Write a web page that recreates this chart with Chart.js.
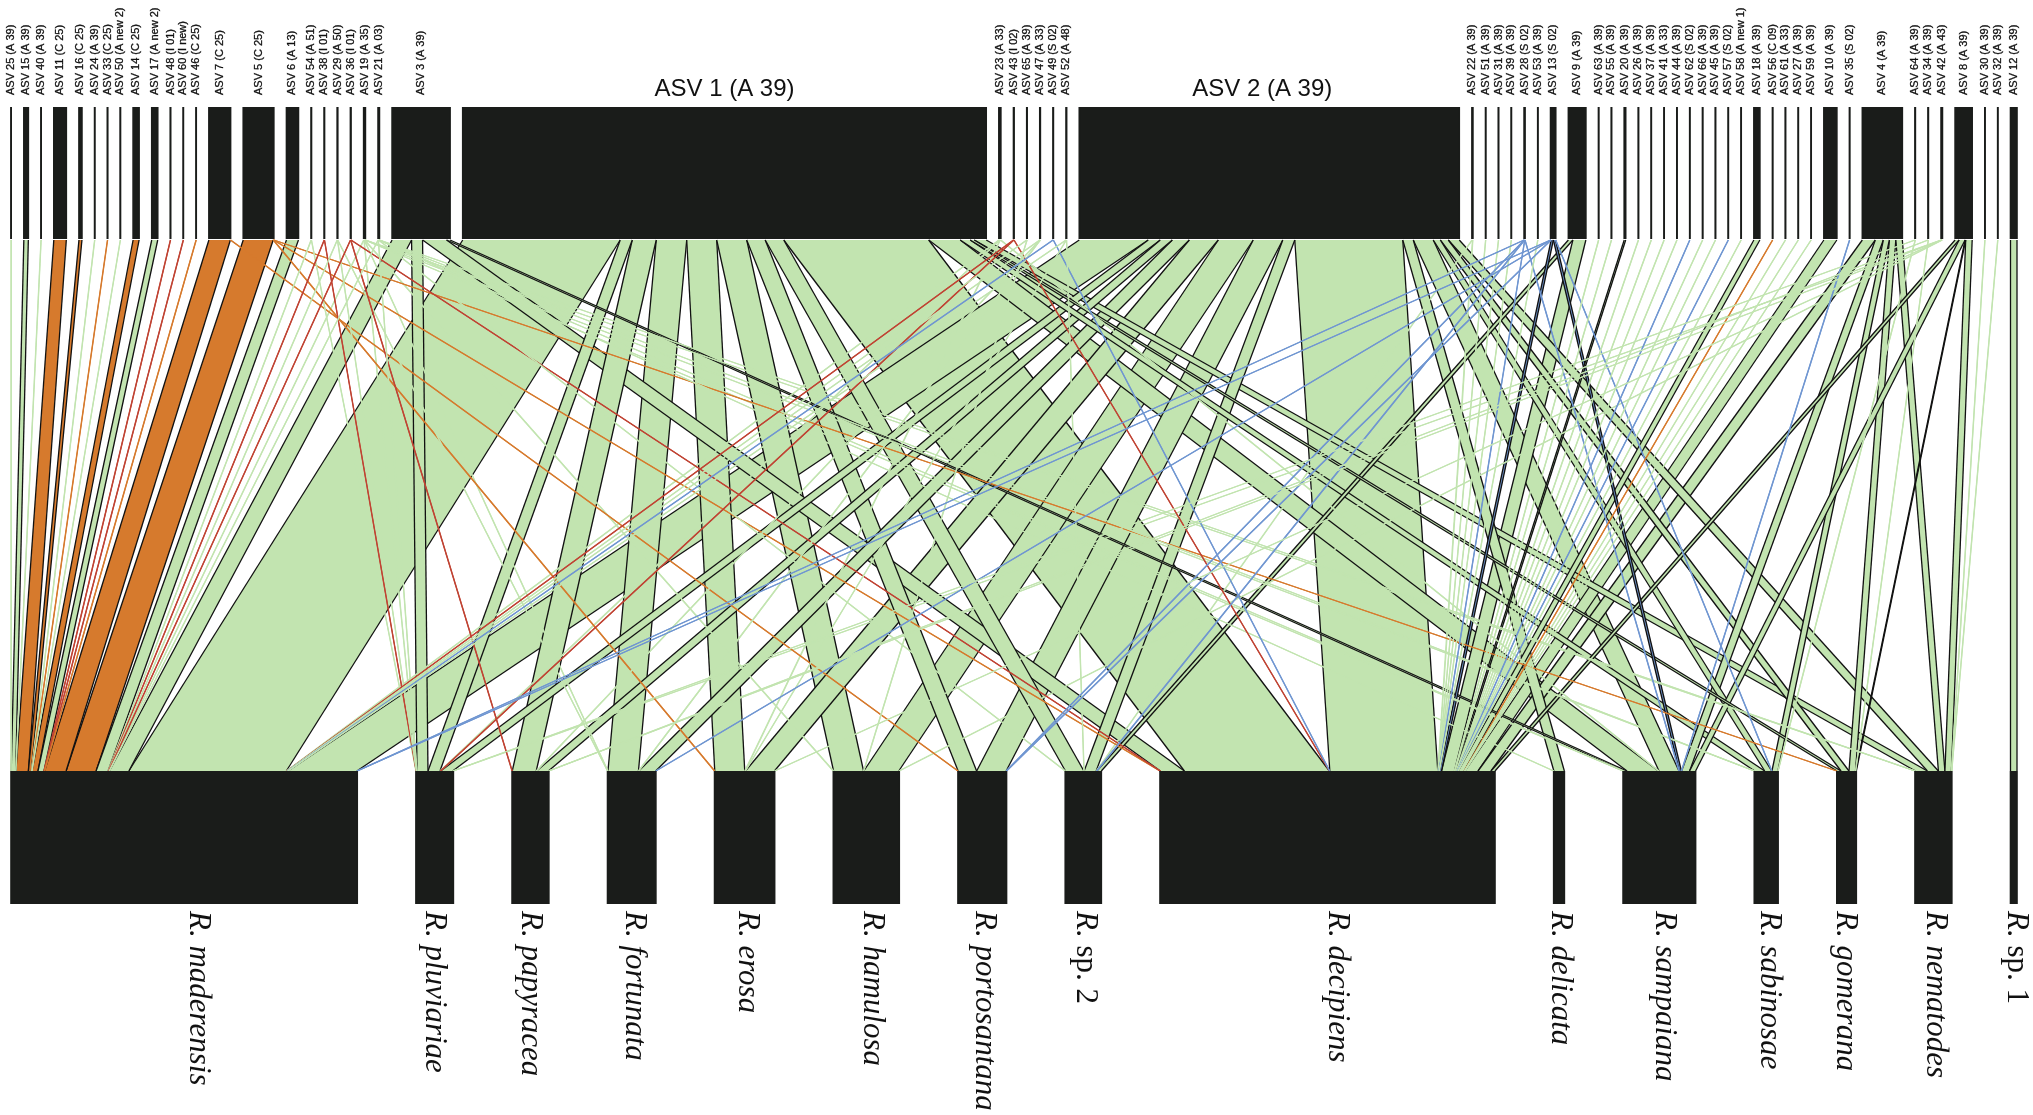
<!DOCTYPE html>
<html>
<head>
<meta charset="utf-8">
<title>ASV / species network</title>
<script src="https://cdn.jsdelivr.net/npm/chart.js@4"></script>
<style>
    html, body { margin: 0; padding: 0; background: #fff; }
    canvas { display: block; }
</style>
</head>
<body>
<canvas id="chart" width="2033" height="1115"></canvas>
<script>
// ASV labels, in the order of the top row
const asvLabels = [
    'ASV 25 (A 39)', 'ASV 15 (A 39)', 'ASV 40 (A 39)', 'ASV 11 (C 25)', 'ASV 16 (C 25)', 'ASV 24 (A 39)',
    'ASV 33 (C 25)', 'ASV 50 (A new 2)', 'ASV 14 (C 25)', 'ASV 17 (A new 2)', 'ASV 48 (I 01)', 'ASV 60 (I new)',
    'ASV 46 (C 25)', 'ASV 7 (C 25)', 'ASV 5 (C 25)', 'ASV 6 (A 13)', 'ASV 54 (A 51)', 'ASV 38 (I 01)',
    'ASV 29 (A 50)', 'ASV 36 (I 01)', 'ASV 19 (A 35)', 'ASV 21 (A 03)', 'ASV 3 (A 39)', 'ASV 1 (A 39)',
    'ASV 23 (A 33)', 'ASV 43 (I 02)', 'ASV 65 (A 39)', 'ASV 47 (A 33)', 'ASV 49 (S 02)', 'ASV 52 (A 48)',
    'ASV 2 (A 39)', 'ASV 22 (A 39)', 'ASV 51 (A 39)', 'ASV 31 (A 39)', 'ASV 39 (A 39)', 'ASV 28 (S 02)',
    'ASV 53 (A 39)', 'ASV 13 (S 02)', 'ASV 9 (A 39)', 'ASV 63 (A 39)', 'ASV 55 (A 39)', 'ASV 20 (A 39)',
    'ASV 26 (A 39)', 'ASV 37 (A 39)', 'ASV 41 (A 33)', 'ASV 44 (A 39)', 'ASV 62 (S 02)', 'ASV 66 (A 39)',
    'ASV 45 (A 39)', 'ASV 57 (S 02)', 'ASV 58 (A new 1)', 'ASV 18 (A 39)', 'ASV 56 (C 09)', 'ASV 61 (A 33)',
    'ASV 27 (A 39)', 'ASV 59 (A 39)', 'ASV 10 (A 39)', 'ASV 35 (S 02)', 'ASV 4 (A 39)', 'ASV 64 (A 39)',
    'ASV 34 (A 39)', 'ASV 42 (A 43)', 'ASV 8 (A 39)', 'ASV 30 (A 39)', 'ASV 32 (A 39)', 'ASV 12 (A 39)'
];

// Species labels, in the order of the bottom row
const speciesLabels = [
    'R. maderensis', 'R. pluviariae', 'R. papyracea', 'R. fortunata', 'R. erosa', 'R. hamulosa',
    'R. portosantana', 'R. sp. 2', 'R. decipiens', 'R. delicata', 'R. sampaiana', 'R. sabinosae',
    'R. gomerana', 'R. nematodes', 'R. sp. 1'
];

const maderensis = [[25, .2], [15, 4.5], [40, .2], [11, 12.5], [16, 3], [24, .2], [33, .2], [50, .2], [14, 6], [17, 6],
    [48, .2], [60, .2], [46, .2], [7, 21.5], [5, 30], [6, 12], [54, .2], [38, .2], [29, .2], [36, .2], [19, .25], [21, .2],
    [3, 19.5], [1, 157.5], [23, .5], [43, .2], [65, .2], [47, .2], [49, .2], [52, .2], [2, 69], [28, .2], [13, .2]];
const pluviariae = [[54, .2], [38, .2], [29, .2], [19, .25], [21, .2], [3, 11], [1, 12], [23, .5], [43, .2], [2, 12], [64, .2], [42, .5]];
const papyracea = [[36, .2], [1, 24], [47, .2], [2, 12], [34, .2], [42, .2]];
const fortunata = [[29, .2], [19, .25], [1, 30.5], [47, .2], [2, 17], [13, .2]];
const erosa = [[5, .2], [1, 30], [23, .5], [52, .2], [2, 29], [42, .2]];
const hamulosa = [[19, .25], [1, 30], [65, .2], [2, 35], [42, .5]];
const portosantana = [[7, .2], [1, 18.5], [2, 29.5], [28, .2], [13, .2]];
const sp2 = [[21, .2], [1, 18.5], [52, .2], [2, 12], [22, .5], [28, .2], [9, 4.5]];
const decipiens = [[5, .2], [36, .2], [3, 24], [1, 145], [43, .2], [49, .2], [2, 108], [22, .5], [51, .2], [31, .2], [39, .2],
    [28, .2], [53, .2], [13, 2.2], [9, 13], [63, .2], [55, .2], [20, 1.5], [26, .2], [37, .2], [41, .2], [44, .2], [62, .2],
    [66, .2], [45, .2], [57, .2], [58, .2], [18, 6], [56, .2], [61, .2], [27, .2], [59, .2], [10, 13], [4, 13], [8, 4]];
const delicata = [[21, .2], [2, 10.5]];
const sampaiana = [[3, 3.5], [19, .25], [21, .2], [1, 31.5], [23, .5], [2, 20], [28, .2], [13, 2.2], [35, .2], [4, 8], [8, 6]];
const sabinosae = [[19, .25], [21, .2], [1, 10], [2, 7], [13, .2], [4, 6], [64, .2]];
const gomerana = [[5, .2], [1, 4], [2, 8], [4, 6.5], [34, .2], [8, .6]];
const nematodes = [[19, .25], [21, .2], [1, 12], [2, 11], [4, 6.5], [8, 6.5], [30, .2], [32, .2]];
const sp1 = [[12, 6.5]];

const speciesLinks = [maderensis, pluviariae, papyracea, fortunata, erosa, hamulosa, portosantana, sp2,
    decipiens, delicata, sampaiana, sabinosae, gomerana, nematodes, sp1];

// Layout of the picture on the value axes
const X_START = 11;
const X_END = 2017;
const TOP_BAR = [107, 239];
const LINK_Y = [240, 771];
const BOTTOM_BAR = [771, 904];

const CLADE_COLORS = { A: '#c2e4b0', C: '#d67a2d', I: '#c04333', S: '#7096d1' };
const BAR_COLOR = '#1a1c1a';
// Links thinner than this have no black outline
const OUTLINE_MIN = .55;

// Labels are not all centred under their bars
const speciesLabelNudge = [14.5, 0, 0, 2, 2.5, 6, 1.5, 2, 10, 1, 4.6, 3, -1.7, 2, 2.6];
const WIDE_LABEL_NUDGE = { 'ASV 1 (A 39)': 0, 'ASV 2 (A 39)': -7 };

const asvNumber = label => parseInt(label.split(' ')[1], 10);
const asvClade = label => label.split('(')[1].charAt(0);

const links = [];
speciesLinks.forEach((list, species) => {
    list.forEach(([num, value]) => {
        links.push({ asv: asvLabels.findIndex(l => asvNumber(l) === num), species, value });
    });
});

/**
 * Lay a row of boxes out from the sum of their links, with an even gap
 * filling what is left of the axis (same idea as a bipartite web plot).
 */
function stackRow(count, key, otherKey) {
    const sums = new Array(count).fill(0);
    links.forEach(l => { sums[l[key]] += l.value; });
    const total = sums.reduce((a, b) => a + b, 0);
    const gap = (X_END - X_START - total) / (count - 1);
    const boxes = [];
    let x = X_START;
    for (let i = 0; i < count; i++) {
        boxes.push({ start: x, end: x + sums[i] });
        let cursor = x;
        links.filter(l => l[key] === i)
            .sort((a, b) => a[otherKey] - b[otherKey])
            .forEach(l => {
                l[key + 'Start'] = cursor;
                cursor += l.value;
                l[key + 'End'] = cursor;
            });
        x += sums[i] + gap;
    }
    return boxes;
}

const asvBoxes = stackRow(asvLabels.length, 'asv', 'species');
const speciesBoxes = stackRow(speciesLabels.length, 'species', 'asv');

// Each shape is a pair of edge lines with the area between them filled
function pushShape(list, edgeA, edgeB, fillColor, edgeColor, edgeWidth) {
    const base = { pointRadius: 0, borderColor: edgeColor, borderWidth: edgeWidth, tension: 0 };
    // the list is reversed later, so this one ends up right after its target
    list.push({ ...base, data: edgeA, fill: '-1', backgroundColor: fillColor });
    list.push({ ...base, data: edgeB, fill: false });
}

function buildDatasets() {
    const list = [];
    // wide links go down first so the narrow ones stay visible on top of them
    const paintOrder = links.slice().sort((a, b) => b.value - a.value || a.asv - b.asv);
    paintOrder.forEach(l => {
        const color = CLADE_COLORS[asvClade(asvLabels[l.asv])];
        const outlined = l.value >= OUTLINE_MIN;
        pushShape(list,
            [{ x: l.asvStart, y: LINK_Y[0] }, { x: l.speciesStart, y: LINK_Y[1] }],
            [{ x: l.asvEnd, y: LINK_Y[0] }, { x: l.speciesEnd, y: LINK_Y[1] }],
            color,
            outlined ? '#111' : color,
            outlined ? 1.3 : 1.25);
    });
    asvBoxes.forEach(b => {
        pushShape(list, [{ x: b.start, y: TOP_BAR[0] }, { x: b.start, y: TOP_BAR[1] }],
            [{ x: b.end, y: TOP_BAR[0] }, { x: b.end, y: TOP_BAR[1] }], BAR_COLOR, BAR_COLOR, 1.6);
    });
    speciesBoxes.forEach(b => {
        pushShape(list, [{ x: b.start, y: BOTTOM_BAR[0] }, { x: b.start, y: BOTTOM_BAR[1] }],
            [{ x: b.end, y: BOTTOM_BAR[0] }, { x: b.end, y: BOTTOM_BAR[1] }], BAR_COLOR, BAR_COLOR, 1.6);
    });
    // Chart.js paints the last dataset first
    return list.reverse();
}

// Row labels: ASV names on top, species names below
const rowLabels = {
    id: 'rowLabels',
    afterDraw(chart) {
        const { ctx, scales: { x, y } } = chart;
        ctx.save();
        ctx.fillStyle = '#111';
        ctx.strokeStyle = '#111';
        ctx.lineWidth = .3;
        asvLabels.forEach((label, i) => {
            const mid = (asvBoxes[i].start + asvBoxes[i].end) / 2;
            if (label in WIDE_LABEL_NUDGE) {
                ctx.font = '24px "Liberation Sans"';
                ctx.textAlign = 'center';
                ctx.textBaseline = 'alphabetic';
                ctx.fillText(label, x.getPixelForValue(mid + WIDE_LABEL_NUDGE[label]), y.getPixelForValue(96));
                return;
            }
            ctx.save();
            ctx.translate(x.getPixelForValue(mid), y.getPixelForValue(95));
            ctx.rotate(-Math.PI / 2);
            ctx.font = '11px "Liberation Sans"';
            ctx.textAlign = 'left';
            ctx.textBaseline = 'middle';
            ctx.fillText(label, 0, 0);
            ctx.strokeText(label, 0, 0);
            ctx.restore();
        });
        speciesLabels.forEach((label, i) => {
            const cx = x.getPixelForValue((speciesBoxes[i].start + speciesBoxes[i].end) / 2 + speciesLabelNudge[i]);
            ctx.save();
            ctx.translate(cx, y.getPixelForValue(911));
            ctx.rotate(Math.PI / 2);
            ctx.textAlign = 'left';
            ctx.textBaseline = 'middle';
            if (label.includes('sp.')) {
                // genus initial in italics, "sp. n" upright
                ctx.font = 'italic 31px "Liberation Serif"';
                ctx.fillText('R. ', 0, 0);
                const w = ctx.measureText('R. ').width;
                ctx.font = '31px "Liberation Serif"';
                ctx.fillText(label.slice(3), w, 0);
            } else {
                ctx.font = 'italic 31px "Liberation Serif"';
                ctx.fillText(label, 0, 0);
            }
            ctx.restore();
        });
        ctx.restore();
    }
};

new Chart(document.getElementById('chart').getContext('2d'), {
    type: 'line',
    data: { datasets: buildDatasets() },
    plugins: [rowLabels],
    options: {
        indexAxis: 'y',
        responsive: false,
        animation: false,
        events: [],
        layout: { padding: 0 },
        plugins: {
            legend: { display: false },
            tooltip: { enabled: false },
            filler: { propagate: false }
        },
        scales: {
            x: { type: 'linear', display: false, min: 0, max: 2033 },
            y: { type: 'linear', display: false, min: 0, max: 1115, reverse: true }
        }
    }
});
</script>
</body>
</html>
